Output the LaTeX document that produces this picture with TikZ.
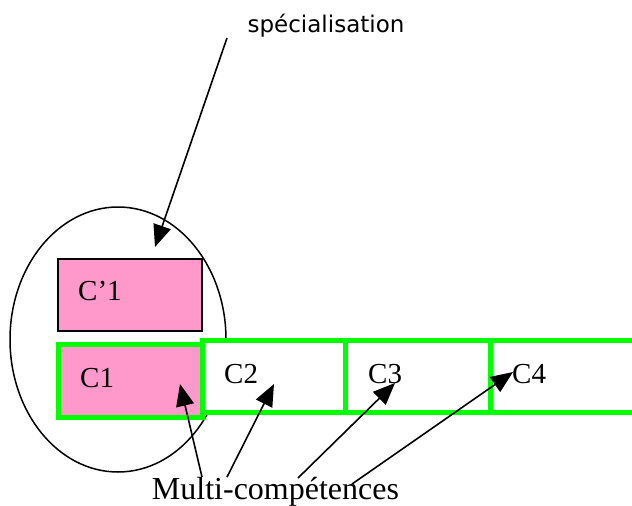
\documentclass[tikz,border=0pt]{standalone}
\usepackage{fontspec}
\setmainfont{Liberation Serif}
\newfontfamily\specfont{DejaVu Sans}
\usetikzlibrary{arrows.meta}

\definecolor{skillpink}{RGB}{255,153,204}
\definecolor{skillgreen}{RGB}{0,255,0}

\tikzset{
    skill/.style={draw=skillgreen, line width=5pt, fill=white, inner sep=0pt,
        minimum width=144pt, minimum height=72pt},
    special/.style={draw=black, line width=2pt, fill=skillpink, inner sep=0pt,
        minimum width=144pt, minimum height=72pt},
    boxlabel/.style={anchor=base west, inner sep=0pt, font=\fontsize{29}{32}\selectfont},
    pointer/.style={line width=1.6pt, -{Triangle[length=22pt, width=18pt]}},
}

\begin{document}
\begin{tikzpicture}[x=1pt, y=-1pt]
    \useasboundingbox (0,0) rectangle (632,506);

    % Specialisation group
    \draw[line width=1.5pt] (118,339.5) ellipse [x radius=108, y radius=132.5];
    \node[special] (cprime1) at (130,295) {};

    % Skill chain
    \node[skill, fill=skillpink, minimum height=73pt] (c1) at (130,380.5) {};
    \node[skill, minimum width=143pt] (c2) at (273.5,376) {};
    \node[skill, minimum width=145pt] (c3) at (417.5,376) {};
    \node[skill, minimum width=146pt] (c4) at (563,376) {};

    % Box labels
    \node[boxlabel] (lcprime1) at (78,300) {C’1};
    \node[boxlabel] (lc1) at (80,387) {C1};
    \node[boxlabel] (lc2) at (224,383) {C2};
    \node[boxlabel] (lc3) at (368,383) {C3};
    \node[boxlabel] (lc4) at (512,383) {C4};

    % Captions
    \node[anchor=base, inner sep=0pt, font=\specfont\fontsize{23}{26}\selectfont]
        (spec) at (326,32) {spécialisation};
    \node[anchor=base, inner sep=0pt, font=\fontsize{32}{36}\selectfont]
        (multi) at (275.5,499) {Multi-compétences};

    % Arrow ends
    \coordinate (specstart) at (227,38);
    \coordinate (spectip) at (155,247);
    \coordinate (m1) at (202,477);
    \coordinate (m2) at (227,477);
    \coordinate (m3) at (298,478);
    \coordinate (m4) at (352,484);
    \coordinate (t1) at (180,384);
    \coordinate (t2) at (274,384);
    \coordinate (t3) at (395,383);
    \coordinate (t4) at (513,372);

    % Arrows
    \draw[pointer] (specstart) -- (spectip);
    \draw[pointer] (m1) -- (t1);
    \draw[pointer] (m2) -- (t2);
    \draw[pointer] (m3) -- (t3);
    \draw[pointer] (m4) -- (t4);
\end{tikzpicture}
\end{document}
